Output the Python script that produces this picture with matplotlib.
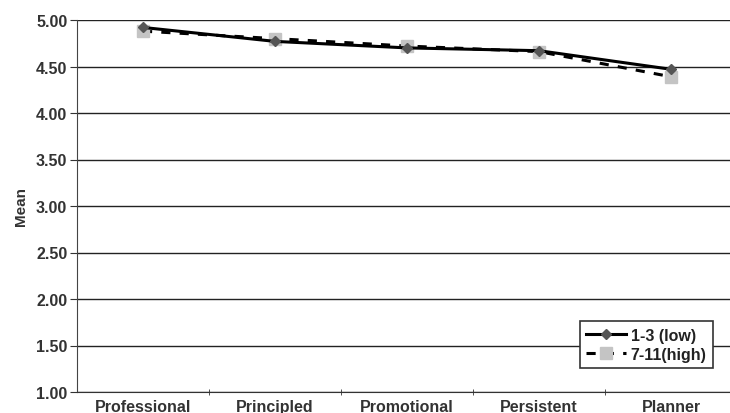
import matplotlib
matplotlib.use("Agg")
import matplotlib.pyplot as plt

categories = ["Professional", "Principled", "Promotional", "Persistent", "Planner"]
low = [4.92, 4.77, 4.70, 4.67, 4.47]
high = [4.88, 4.80, 4.72, 4.66, 4.39]
yticks = [1.00, 1.50, 2.00, 2.50, 3.00, 3.50, 4.00, 4.50, 5.00]

plt.rcParams['font.family'] = ['Liberation Sans', 'DejaVu Sans']
plt.rcParams['font.weight'] = 'bold'

fig = plt.figure(figsize=(7.30, 4.14), dpi=100)
ax = fig.add_axes([77/730, 21/414, 660/730, 372/414])

x = list(range(len(categories)))
ax.plot(x, low, color='black', lw=2.2, marker='D', markersize=5,
        markerfacecolor='#555555', markeredgecolor='#555555', label='1-3 (low)', zorder=3)
ax.plot(x, high, color='black', lw=2.2, ls=(0, (3, 3)), marker='s', markersize=9,
        markerfacecolor='#c4c4c4', markeredgecolor='#c4c4c4', label='7-11(high)', zorder=2)

ax.set_xlim(-0.5, len(categories) - 0.5)
ax.set_ylim(1.0, 5.0)
ax.set_yticks(yticks)
ax.set_yticklabels([f"{v:.2f}" for v in yticks], fontsize=11.5, color='#333333', fontweight='bold')
ax.set_xticks(x)
ax.set_xticklabels(categories, fontsize=11.5, color='#333333', fontweight='bold')
ax.set_xticks([i + 0.5 for i in x], minor=True)
ax.tick_params(axis='x', which='major', length=0, pad=5)
ax.tick_params(axis='x', which='minor', length=5, color='#333333', direction='inout')
ax.tick_params(axis='y', length=5, color='#333333', pad=2)
ax.yaxis.grid(True, color='#222222', lw=1.0)
ax.set_axisbelow(True)
for s in ['top', 'right']:
    ax.spines[s].set_visible(False)
ax.spines['left'].set_color('#444444')
ax.spines['bottom'].set_color('#333333')
ax.set_ylabel('Mean', fontsize=11, color='#333333', fontweight='bold', labelpad=6)

leg = ax.legend(loc='lower right', fontsize=11.5, frameon=True, fancybox=False, framealpha=1,
                edgecolor='#333333', handlelength=2.5, borderpad=0.4, labelspacing=0.25,
                handletextpad=0.3, borderaxespad=0)
leg.set_bbox_to_anchor((713/730, (414-369)/414), transform=fig.transFigure)
leg.get_frame().set_linewidth(1.2)
for t in leg.get_texts():
    t.set_color('#222222')
    t.set_fontweight('bold')

fig.savefig('out.png', dpi=100)
